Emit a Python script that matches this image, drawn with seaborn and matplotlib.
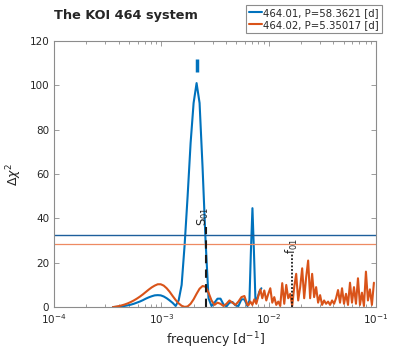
import numpy as np
import pandas as pd
import matplotlib
matplotlib.use('Agg')
import matplotlib.pyplot as plt
import seaborn as sns
from matplotlib.ticker import LogLocator

# KOI 464.01, P=58.3621 d  (frequency in 1/d, delta chi^2)
freq_01 = [3.53e-4, 3.764e-4, 4.013e-4, 4.279e-4, 4.563e-4, 4.865e-4, 5.187e-4, 5.531e-4,
           5.897e-4, 6.288e-4, 6.705e-4, 7.149e-4, 7.622e-4, 8.127e-4, 8.665e-4, 9.239e-4,
           9.851e-4, 1.0504e-3, 1.12e-3, 1.1942e-3, 1.2733e-3, 1.3576e-3, 1.4475e-3, 1.5434e-3,
           1.6456e-3, 1.7546e-3, 1.8709e-3, 1.9948e-3, 2.1269e-3, 2.2678e-3, 2.418e-3, 2.5782e-3,
           2.749e-3, 2.9311e-3, 3.1252e-3, 3.3322e-3, 3.5529e-3, 3.7882e-3, 4.0391e-3, 4.3067e-3,
           4.592e-3, 4.896e-3, 5.22e-3, 5.566e-3, 5.935e-3, 6.328e-3, 6.61e-3, 6.82e-3,
           7.05e-3, 7.28e-3, 7.52e-3, 7.84e-3, 8.18e-3, 8.54e-3]
dchi2_01 = [0, 0.1, 0.2, 0.35, 0.55, 0.8, 1.1, 1.5,
            2.0, 2.5, 3.1, 3.8, 4.4, 4.9, 5.3, 5.4,
            5.3, 4.8, 4.0, 3.0, 1.9, 0.5, 3, 10,
            28, 50, 74, 92, 101, 92, 63, 30,
            4, 0.5, 2, 3.8, 3.8, 1.2, 0.3, 2,
            2.3, 0.8, 0.5, 3.5, 3.5, 0.5, 3, 25,
            44.6, 25, 3, 4, 7, 8.5]

# KOI 464.02, P=5.35017 d
freq_02 = [3.53e-4, 3.764e-4, 4.013e-4, 4.279e-4, 4.563e-4, 4.865e-4, 5.187e-4, 5.531e-4,
           5.897e-4, 6.288e-4, 6.705e-4, 7.149e-4, 7.622e-4, 8.127e-4, 8.665e-4, 9.239e-4,
           9.851e-4, 1.0504e-3, 1.12e-3, 1.1942e-3, 1.2733e-3, 1.3576e-3, 1.4475e-3, 1.5434e-3,
           1.6456e-3, 1.7546e-3, 1.8709e-3, 1.9948e-3, 2.1269e-3, 2.2678e-3, 2.418e-3, 2.5782e-3,
           2.749e-3, 2.9311e-3, 3.1252e-3, 3.3322e-3, 3.5529e-3, 3.7882e-3, 4.0391e-3, 4.3067e-3,
           4.592e-3, 4.896e-3, 5.22e-3, 5.566e-3, 5.935e-3, 6.328e-3,
           6.46e-3, 6.74e-3, 7.04e-3, 7.34e-3, 7.66e-3, 8.00e-3, 8.35e-3, 8.71e-3,
           9.09e-3, 9.49e-3, 9.91e-3, 1.034e-2, 1.079e-2, 1.126e-2, 1.175e-2, 1.227e-2,
           1.280e-2, 1.336e-2, 1.395e-2, 1.456e-2, 1.519e-2, 1.586e-2, 1.655e-2, 1.727e-2,
           1.802e-2, 1.881e-2, 1.963e-2, 2.049e-2, 2.139e-2, 2.232e-2, 2.329e-2, 2.431e-2,
           2.537e-2, 2.648e-2, 2.764e-2, 2.884e-2, 3.010e-2, 3.142e-2, 3.279e-2, 3.422e-2,
           3.572e-2, 3.728e-2, 3.891e-2, 4.061e-2, 4.238e-2, 4.423e-2, 4.616e-2, 4.818e-2,
           5.028e-2, 5.248e-2, 5.477e-2, 5.716e-2, 5.966e-2, 6.226e-2, 6.498e-2, 6.782e-2,
           7.078e-2, 7.388e-2, 7.710e-2, 8.047e-2, 8.398e-2, 8.765e-2, 9.148e-2, 9.548e-2]
dchi2_02 = [0, 0.2, 0.45, 0.8, 1.2, 1.7, 2.3, 3.0,
            3.8, 4.7, 5.7, 6.8, 7.9, 8.9, 9.7, 10.3,
            10.3, 9.7, 8.5, 6.9, 5.0, 3.2, 1.7, 0.6,
            0.1, 0.3, 1.5, 3.5, 6, 8.3, 9.5, 9.2,
            6.5, 3, 1, 2, 1.5, 0.5, 1.5, 3,
            2, 1, 2.5, 4.5, 5, 1,
            0.8, 2.5, 1, 3.5, 1.5, 5, 8, 4,
            7.5, 3, 6, 8.5, 2, 4.5, 1, 2.5,
            0.5, 10.8, 1.5, 10, 4, 6, 0.5, 9,
            15, 3, 9, 17.5, 4, 13.5, 21, 4,
            15, 4.5, 9, 2, 5.4, 1, 3, 1.5,
            2.5, 1, 3, 1.5, 4, 7.7, 2, 8.5,
            1.5, 6, 1, 11, 2, 9, 1.5, 13,
            1, 6.5, 0.5, 16, 3, 8, 1, 11]

labels = ['464.01, P=58.3621 [d]', '464.02, P=5.35017 [d]']
colors = ['#0072BD', '#D95319']

# detection thresholds
thresh_01 = 32.5
thresh_02 = 28.4

# measured point with error bar for 464.01
pt_freq, pt_val, pt_err = 2.128e-3, 109, 3

# marked frequencies
s01_freq, s01_top = 2.578e-3, 36
f01_freq, f01_top = 0.0166, 24

df1 = pd.DataFrame({'frequency': freq_01, 'dchi2': dchi2_01})
df2 = pd.DataFrame({'frequency': freq_02, 'dchi2': dchi2_02})

sns.set_theme(style='ticks')
plt.rcParams['font.family'] = ['DejaVu Sans']

fig = plt.figure(figsize=(4.16, 3.53), dpi=100)
ax = fig.add_axes([0.130, 0.130, 0.774, 0.754])

sns.lineplot(data=df1, x='frequency', y='dchi2', color=colors[0], lw=1.5,
             estimator=None, label=labels[0], ax=ax)
sns.lineplot(data=df2, x='frequency', y='dchi2', color=colors[1], lw=1.5,
             estimator=None, label=labels[1], ax=ax)

ax.errorbar([pt_freq], [pt_val], yerr=[pt_err], fmt='none', ecolor=colors[0],
            elinewidth=2.5, capsize=0)

ax.axhline(thresh_01, color='#1d5f9c', lw=1)
ax.axhline(thresh_02, color='#ee8a62', lw=0.9)

ax.vlines(s01_freq, 0, s01_top, colors='k', linestyles=(0, (4, 3)), lw=1.5)
ax.vlines(f01_freq, 0, f01_top, colors='k', linestyles=(0, (1, 1)), lw=1.3)
ax.text(s01_freq * 0.96, s01_top + 0.5, 'S$_{01}$', rotation=90, ha='center', va='bottom',
        fontsize=8.5, color='#222222')
ax.text(f01_freq, f01_top, 'f$_{01}$', rotation=90, ha='center', va='bottom',
        fontsize=8.5, color='#222222')

ax.set_xscale('log')
ax.set_xlim(1e-4, 1e-1)
ax.set_ylim(0, 120)
ax.set_yticks([0, 20, 40, 60, 80, 100, 120])
ax.xaxis.set_minor_locator(LogLocator(base=10, subs=np.arange(2, 10)))

ax.set_xlabel('frequency [d$^{-1}$]', fontsize=9, color='#262626', labelpad=3)
ax.set_ylabel('$\\Delta\\chi^2$', fontsize=9, color='#262626', labelpad=4)
fig.text(0.13, 0.955, 'The KOI 464 system', fontsize=9.3, fontweight='bold', ha='left', va='center')

for sp in ax.spines.values():
    sp.set_color('#8c8c8c')
    sp.set_linewidth(0.8)
ax.tick_params(which='both', direction='in', top=True, right=True, colors='#8c8c8c',
               labelcolor='#262626', labelsize=7.5, width=0.6)
ax.tick_params(which='major', length=3.5)
ax.tick_params(which='minor', length=2)

leg = ax.legend(loc='upper right', bbox_to_anchor=(0.918, 0.986), bbox_transform=fig.transFigure,
                fontsize=7.3, handlelength=1.3, handletextpad=0.1, borderpad=0.3,
                labelspacing=0.2, borderaxespad=0, fancybox=False, framealpha=1)
leg.get_frame().set_edgecolor('#8c8c8c')
leg.get_frame().set_linewidth(0.8)

fig.savefig('out.png', dpi=100)
